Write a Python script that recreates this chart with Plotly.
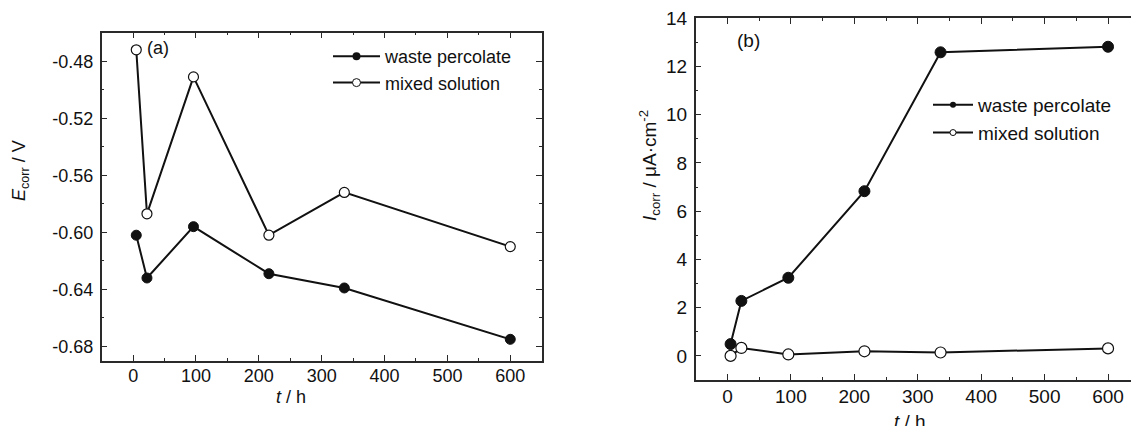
import plotly.graph_objects as go

# ---- data ----
t_hours = [5, 22, 96, 216, 336, 600]
ecorr_waste = [-0.602, -0.632, -0.596, -0.629, -0.639, -0.675]
ecorr_mixed = [-0.472, -0.587, -0.491, -0.602, -0.572, -0.610]
icorr_waste = [0.49, 2.28, 3.24, 6.83, 12.59, 12.82]
icorr_mixed = [0.0, 0.33, 0.06, 0.19, 0.14, 0.31]
series_names = ["waste percolate", "mixed solution"]
e_tickvals = [-0.48, -0.52, -0.56, -0.60, -0.64, -0.68]
e_ticktext = ["-0.48", "-0.52", "-0.56", "-0.60", "-0.64", "-0.68"]

W, H = 1131, 426
FONT = "Liberation Sans, Arial, sans-serif"
INK = "#111111"
AX = "#2a2a2a"


def px(x):
    return x / W


def py(y):
    return (H - y) / H


fig = go.Figure()

# left panel
fig.add_trace(go.Scatter(x=t_hours, y=ecorr_waste, mode="lines+markers", showlegend=False,
                         line=dict(color=INK, width=2),
                         marker=dict(size=10, color=INK, line=dict(color=INK, width=1)),
                         xaxis="x", yaxis="y"))
fig.add_trace(go.Scatter(x=t_hours, y=ecorr_mixed, mode="lines+markers", showlegend=False,
                         line=dict(color=INK, width=2),
                         marker=dict(size=10, color="white", line=dict(color=INK, width=1.2)),
                         xaxis="x", yaxis="y"))
# right panel
fig.add_trace(go.Scatter(x=t_hours, y=icorr_waste, mode="lines+markers", showlegend=False,
                         line=dict(color=INK, width=2),
                         marker=dict(size=11, color=INK, line=dict(color=INK, width=1)),
                         xaxis="x2", yaxis="y2"))
fig.add_trace(go.Scatter(x=t_hours, y=icorr_mixed, mode="lines+markers", showlegend=False,
                         line=dict(color=INK, width=2),
                         marker=dict(size=11, color="white", line=dict(color=INK, width=1.2)),
                         xaxis="x2", yaxis="y2"))

# legend entries
for leg, msize in (("legend", 8), ("legend2", 6)):
    xa, ya = ("x", "y") if leg == "legend" else ("x2", "y2")
    fig.add_trace(go.Scatter(x=[None], y=[None], mode="lines+markers", name=series_names[0],
                             legend=leg, line=dict(color=INK, width=2),
                             marker=dict(size=msize, color=INK), xaxis=xa, yaxis=ya))
    fig.add_trace(go.Scatter(x=[None], y=[None], mode="lines+markers", name=series_names[1],
                             legend=leg, line=dict(color=INK, width=2),
                             marker=dict(size=msize, color="white", line=dict(color=INK, width=1)),
                             xaxis=xa, yaxis=ya))

common_ax = dict(showline=True, linecolor=AX, linewidth=1.5, ticks="inside", ticklen=6,
                 tickwidth=1.3, tickcolor=AX, showgrid=False, zeroline=False,
                 color="#111", automargin=False)

fig.update_layout(
    template="none",
    width=W, height=H, margin=dict(l=0, r=0, t=0, b=0, pad=0, autoexpand=False),
    paper_bgcolor="white", plot_bgcolor="white",
    font=dict(family=FONT, size=18, color="#111"),
    xaxis=dict(domain=[px(101.7), px(541.7)], range=[-50, 650], anchor="y",
               tick0=0, dtick=100, mirror="ticks", ticklabelstandoff=-2,
               minor=dict(dtick=50, ticks="inside", ticklen=3, tickcolor=AX, tickwidth=1.2),
               tickfont=dict(size=18), **common_ax),
    yaxis=dict(domain=[py(360.7), py(32.7)], range=[-0.69, -0.46], anchor="x",
               tickvals=e_tickvals, ticktext=e_ticktext, mirror="ticks", ticklabelstandoff=3,
               minor=dict(dtick=0.02, tick0=-0.48, ticks="inside", ticklen=3, tickcolor=AX, tickwidth=1.2),
               tickfont=dict(size=18), **common_ax),
    xaxis2=dict(domain=[px(695.7), 1.0], range=[-50, 636.2], anchor="y2",
                tick0=0, dtick=100, mirror="ticks", ticklabelstandoff=-2,
                minor=dict(dtick=50, ticks="inside", ticklen=3, tickcolor=AX, tickwidth=1.2),
                tickfont=dict(size=19), **common_ax),
    yaxis2=dict(domain=[py(380), py(18.3)], range=[-1, 14], anchor="x2",
                tick0=0, dtick=2, mirror=False, ticklabelstandoff=3,
                minor=dict(dtick=1, ticks="inside", ticklen=3, tickcolor=AX, tickwidth=1.2),
                tickfont=dict(size=19), **common_ax),
    legend=dict(x=px(328), y=py(38), xanchor="left", yanchor="top",
                bgcolor="rgba(0,0,0,0)", font=dict(size=18), itemwidth=47,
                tracegroupgap=0, borderwidth=0),
    legend2=dict(x=px(928), y=py(86), xanchor="left", yanchor="top",
                 bgcolor="rgba(0,0,0,0)", font=dict(size=19), itemwidth=40,
                 tracegroupgap=0, borderwidth=0),
)

ann = [
    dict(text="<i>t</i> / h", x=px(290.7), y=py(396.7), size=18, angle=0),
    dict(text="<i>t</i> / h", x=px(910), y=py(421.7), size=19, angle=0),
    dict(text="<i>E</i><sub>corr</sub> / V", x=px(20), y=py(171), size=18, angle=-90),
    dict(text="<i>I</i><sub>corr</sub> / μA·cm<sup>-2</sup>", x=px(650), y=py(166), size=19, angle=-90),
    dict(text="(a)", x=px(158), y=py(48), size=18, angle=0),
    dict(text="(b)", x=px(748), y=py(40), size=19, angle=0),
]
for a in ann:
    fig.add_annotation(text=a["text"], x=a["x"], y=a["y"], xref="paper", yref="paper",
                       xanchor="center", yanchor="middle", showarrow=False,
                       textangle=a["angle"], font=dict(family=FONT, size=a["size"], color="#111"))

fig.write_html("out.html")
